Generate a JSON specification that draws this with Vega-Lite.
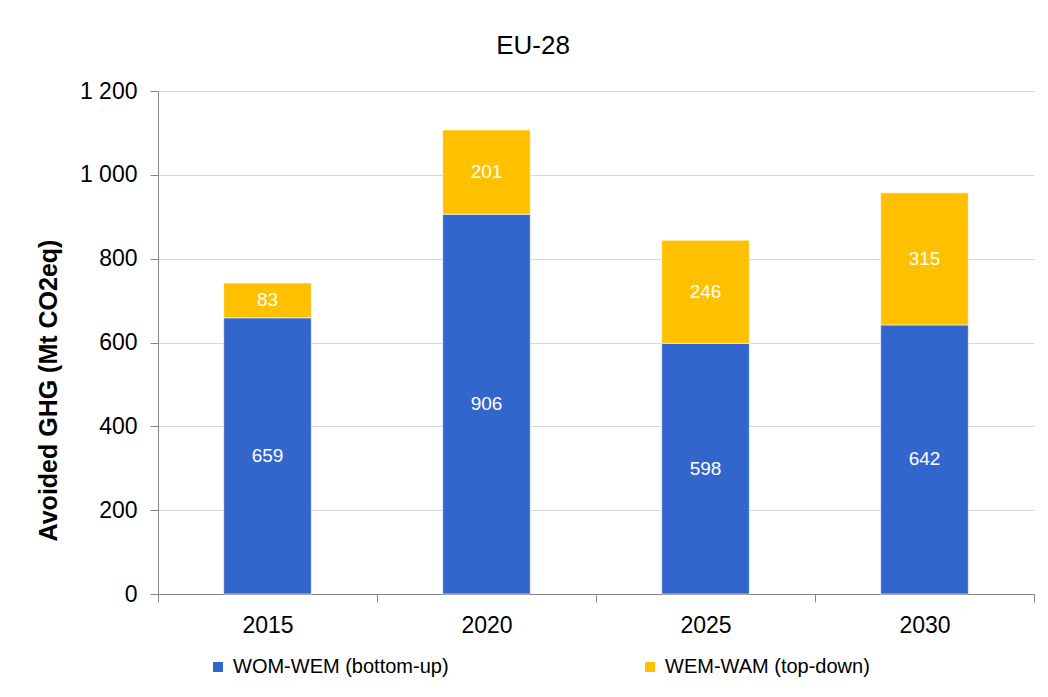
{
  "$schema": "https://vega.github.io/schema/vega-lite/v6.json",
  "autosize": {"type": "none"},
  "width": 876,
  "height": 503,
  "padding": {"left": 158, "top": 91, "right": 14, "bottom": 103},
  "background": "white",
  "config": {
    "font": "Liberation Sans",
    "view": {"stroke": null}
  },
  "title": {
    "text": "EU-28",
    "fontSize": 26,
    "fontWeight": "normal",
    "color": "#000000",
    "anchor": "middle",
    "dx": -63,
    "offset": 21
  },
  "data": {
    "values": [
      {"year": "2015", "series": "WOM-WEM (bottom-up)", "value": 659},
      {"year": "2015", "series": "WEM-WAM (top-down)", "value": 83},
      {"year": "2020", "series": "WOM-WEM (bottom-up)", "value": 906},
      {"year": "2020", "series": "WEM-WAM (top-down)", "value": 201},
      {"year": "2025", "series": "WOM-WEM (bottom-up)", "value": 598},
      {"year": "2025", "series": "WEM-WAM (top-down)", "value": 246},
      {"year": "2030", "series": "WOM-WEM (bottom-up)", "value": 642},
      {"year": "2030", "series": "WEM-WAM (top-down)", "value": 315}
    ]
  },
  "transform": [
    {"stack": "value", "groupby": ["year"], "sort": [{"field": "series", "order": "descending"}], "as": ["v0", "v1"]},
    {"calculate": "(datum.v0 + datum.v1) / 2", "as": "mid"}
  ],
  "encoding": {
    "x": {
      "field": "year",
      "type": "nominal",
      "scale": {"paddingInner": 0, "paddingOuter": 0},
      "axis": {
        "title": null,
        "labelAngle": 0,
        "labelFontSize": 23,
        "labelColor": "#000000",
        "labelPadding": 12,
        "domainColor": "#868686",
        "tickColor": "#868686",
        "tickSize": 8,
        "tickBand": "extent",
        "grid": false
      }
    }
  },
  "layer": [
    {
      "mark": {"type": "bar", "width": {"band": 0.4}, "stroke": "#ffffff", "strokeWidth": 1, "strokeOpacity": 0.6},
      "encoding": {
        "y": {
          "field": "v0",
          "type": "quantitative",
          "scale": {"domain": [0, 1200]},
          "axis": {
            "title": "Avoided GHG (Mt CO2eq)",
            "titleFontSize": 25,
            "titleFontWeight": "bold",
            "titleColor": "#000000",
            "titlePadding": 18,
            "titleY": 299,
            "titleAlign": "center",
            "values": [0, 200, 400, 600, 800, 1000, 1200],
            "labelExpr": "replace(format(datum.value, ','), ',', ' ')",
            "labelFontSize": 23,
            "labelColor": "#000000",
            "labelPadding": 13,
            "domainColor": "#868686",
            "tickColor": "#868686",
            "tickSize": 8,
            "gridColor": "#d9d9d9",
            "grid": true
          }
        },
        "y2": {"field": "v1"},
        "color": {
          "field": "series",
          "type": "nominal",
          "scale": {
            "domain": ["WOM-WEM (bottom-up)", "WEM-WAM (top-down)"],
            "range": ["#3366cc", "#ffc000"]
          },
          "legend": {
            "title": null,
            "orient": "none",
            "direction": "horizontal",
            "columns": 2,
            "columnPadding": 191,
            "legendX": 50,
            "legendY": 566,
            "symbolType": "square",
            "symbolSize": 100,
            "symbolStrokeWidth": 0,
            "labelFontSize": 20,
            "labelLimit": 400,
            "labelColor": "#000000",
            "labelOffset": 5
          }
        }
      }
    },
    {
      "mark": {"type": "text", "color": "#ffffff", "fontSize": 19, "baseline": "middle"},
      "encoding": {
        "y": {"field": "mid", "type": "quantitative"},
        "text": {"field": "value", "type": "quantitative"}
      }
    }
  ]
}
